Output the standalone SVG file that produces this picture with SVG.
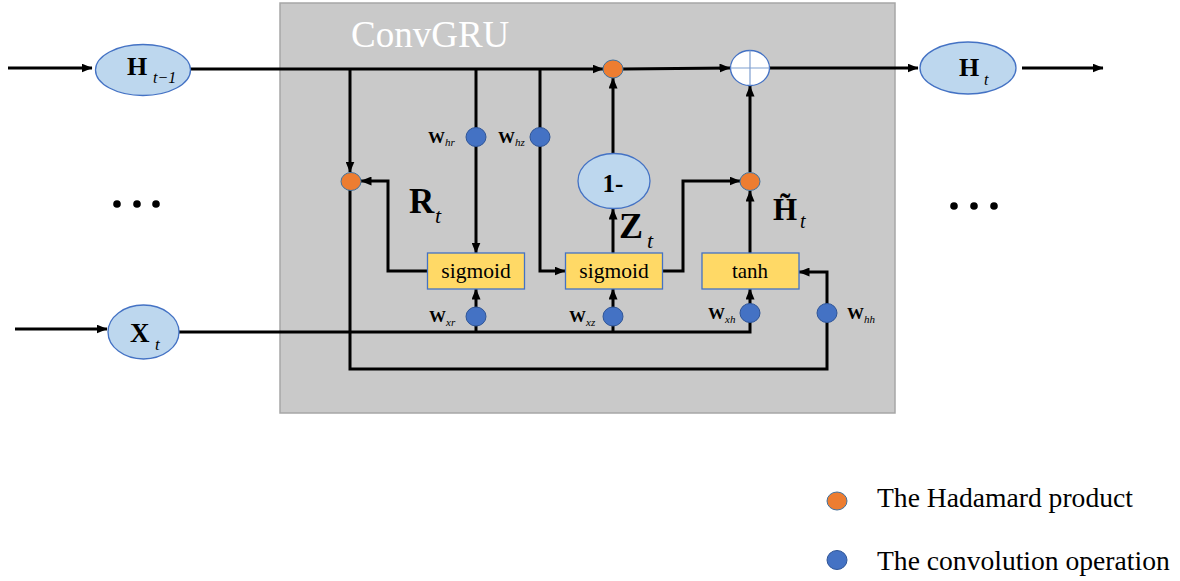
<svg xmlns="http://www.w3.org/2000/svg" width="1180" height="581" viewBox="0 0 1180 581">
<defs>
<marker id="arr" markerUnits="userSpaceOnUse" markerWidth="11" markerHeight="9" refX="10.5" refY="4.5" orient="auto">
<path d="M0,0 L11,4.5 L0,9 z" fill="#000"/>
</marker>
<style>
.ln{fill:none;stroke:#000;stroke-width:3;}
.ar{marker-end:url(#arr);}
.ell{fill:#bdd7ee;stroke:#4472c4;stroke-width:1.3;}
.box{fill:#ffd966;stroke:#4472c4;stroke-width:1.3;}
.had{fill:#ed7d31;stroke:#41719c;stroke-width:1;}
.conv{fill:#4472c4;stroke:#2f5597;stroke-width:1;}
text{font-family:"Liberation Serif","Times New Roman",serif;fill:#000;}
.b{font-weight:bold;}
.i{font-style:italic;}
.dot{fill:#000;}
</style>
</defs>
<rect width="1180" height="581" fill="#fff"/>
<g id="convgru-frame">
<rect x="280" y="3" width="615" height="410" fill="#c9c9c9" stroke="#a6a6a6" stroke-width="1.5"/>
<text x="351" y="47" font-size="37" style="fill:#fff">ConvGRU</text>
</g>
<g id="connectors">
<path class="ln ar" d="M8,68 L92,68"/>
<path class="ln ar" d="M190,69 L603,69"/>
<path class="ln ar" d="M623,69 L730,68"/>
<path class="ln ar" d="M770,68 L918,68"/>
<path class="ln ar" d="M1022,68 L1103,68"/>
<path class="ln ar" d="M350,69 L350,172"/>
<path class="ln ar" d="M476,69 L476,253"/>
<path class="ln ar" d="M540,69 L540,271 L565,271"/>
<path class="ln ar" d="M427,271 L388,271 L388,181 L361,181"/>
<path class="ln ar" d="M350,190 L350,369 L827,369 L827,272 L799,272"/>
<path class="ln ar" d="M15,329 L107,329"/>
<path class="ln ar" d="M179,332 L750,332 L750,289"/>
<path class="ln ar" d="M476,332 L476,289"/>
<path class="ln ar" d="M613,332 L613,289"/>
<path class="ln ar" d="M613,253 L613,209"/>
<path class="ln ar" d="M613,154 L613,78"/>
<path class="ln ar" d="M663,271 L683,271 L683,181 L740,181"/>
<path class="ln ar" d="M750,253 L750,191"/>
<path class="ln ar" d="M750,172 L750,86"/>
</g>
<g id="node-h-prev">
<ellipse class="ell" cx="143" cy="70" rx="47.5" ry="25.5"/>
<text><tspan class="b" x="127" y="75" font-size="26">H</tspan><tspan class="i" x="153" y="83" font-size="16">t−1</tspan></text>
</g>
<g id="node-h-t">
<ellipse class="ell" cx="968" cy="68" rx="48" ry="26"/>
<text><tspan class="b" x="959" y="76" font-size="26">H</tspan><tspan class="i" x="984" y="85" font-size="16">t</tspan></text>
</g>
<g id="node-x-t">
<ellipse class="ell" cx="143.5" cy="332" rx="35.5" ry="27"/>
<text><tspan class="b" x="130" y="342" font-size="27">X</tspan><tspan class="i" x="155" y="350" font-size="17">t</tspan></text>
</g>
<g id="node-one-minus">
<ellipse class="ell" cx="614" cy="181" rx="36" ry="27.5"/>
<text class="b" x="613" y="192" font-size="25" text-anchor="middle">1-</text>
</g>
<g id="node-sigmoid-r">
<rect class="box" x="427.5" y="253" width="97" height="36"/>
<text x="476" y="278" font-size="21.5" text-anchor="middle">sigmoid</text>
</g>
<g id="node-sigmoid-z">
<rect class="box" x="565.5" y="253" width="97" height="36"/>
<text x="614" y="278" font-size="21.5" text-anchor="middle">sigmoid</text>
</g>
<g id="node-tanh">
<rect class="box" x="702" y="253" width="97" height="36"/>
<text x="750" y="278" font-size="21" text-anchor="middle">tanh</text>
</g>
<g id="node-hadamard-r">
<ellipse class="had" cx="351" cy="181.5" rx="10" ry="9"/>
</g>
<g id="node-hadamard-z">
<ellipse class="had" cx="613" cy="69" rx="10" ry="9"/>
</g>
<g id="node-hadamard-h">
<ellipse class="had" cx="750" cy="181.5" rx="10" ry="9"/>
</g>
<g id="node-sum">
<ellipse cx="750" cy="68" rx="19.5" ry="17.5" fill="#fff" stroke="#4472c4" stroke-width="1.3"/>
<path d="M730.5,68 L769.5,68 M750,50.5 L750,85.5" stroke="#7f9fd0" stroke-width="1.2" fill="none"/>
</g>
<g id="node-w-hr">
<ellipse class="conv" cx="476" cy="137" rx="10" ry="9.5"/>
<text><tspan class="b" x="428" y="143" font-size="17">W</tspan><tspan class="i" x="445" y="146" font-size="11">hr</tspan></text>
</g>
<g id="node-w-hz">
<ellipse class="conv" cx="540" cy="137" rx="10" ry="9.5"/>
<text><tspan class="b" x="498" y="143" font-size="17">W</tspan><tspan class="i" x="515" y="146" font-size="11">hz</tspan></text>
</g>
<g id="node-w-xr">
<ellipse class="conv" cx="476" cy="316.5" rx="10" ry="9.5"/>
<text><tspan class="b" x="429" y="322" font-size="17">W</tspan><tspan class="i" x="446" y="326" font-size="11">xr</tspan></text>
</g>
<g id="node-w-xz">
<ellipse class="conv" cx="613" cy="316.5" rx="10" ry="9.5"/>
<text><tspan class="b" x="569" y="322" font-size="17">W</tspan><tspan class="i" x="586" y="326" font-size="11">xz</tspan></text>
</g>
<g id="node-w-xh">
<ellipse class="conv" cx="750" cy="313" rx="10" ry="9.5"/>
<text><tspan class="b" x="708" y="319" font-size="17">W</tspan><tspan class="i" x="725" y="323" font-size="11">xh</tspan></text>
</g>
<g id="node-w-hh">
<ellipse class="conv" cx="827" cy="313" rx="10" ry="9.5"/>
<text><tspan class="b" x="847" y="319" font-size="17">W</tspan><tspan class="i" x="864" y="323" font-size="11">hh</tspan></text>
</g>
<g id="label-r">
<text><tspan class="b" x="409" y="213" font-size="35">R</tspan><tspan class="i" x="435" y="223" font-size="22">t</tspan></text>
</g>
<g id="label-z">
<text><tspan class="b" x="619" y="238" font-size="36">Z</tspan><tspan class="i" x="647" y="248" font-size="22">t</tspan></text>
</g>
<g id="label-h-tilde">
<text><tspan class="b" x="773" y="220" font-size="31">H̃</tspan><tspan class="i" x="800" y="228" font-size="20">t</tspan></text>
</g>
<g id="ellipsis-left">
<circle class="dot" cx="117" cy="204" r="3.8"/>
<circle class="dot" cx="137" cy="204" r="3.8"/>
<circle class="dot" cx="156" cy="204" r="3.8"/>
</g>
<g id="ellipsis-right">
<circle class="dot" cx="954" cy="206" r="3.8"/>
<circle class="dot" cx="974" cy="206" r="3.8"/>
<circle class="dot" cx="994" cy="206" r="3.8"/>
</g>
<g id="legend">
<ellipse class="had" cx="837" cy="501" rx="10" ry="9"/>
<text x="877" y="507" font-size="27.6">The Hadamard product</text>
<ellipse class="conv" cx="837" cy="560" rx="10" ry="9.5"/>
<text x="877" y="570" font-size="27.6">The convolution operation</text>
</g>
</svg>
